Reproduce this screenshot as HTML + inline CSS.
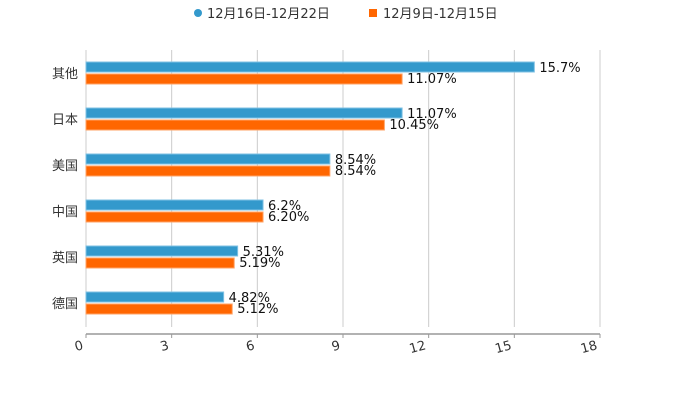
<!DOCTYPE html>
<html><head><meta charset="utf-8"><style>
body{margin:0;background:#fff;font-family:"Liberation Sans","Noto Sans CJK SC",sans-serif;}
svg text{font-family:"DejaVu Sans","Noto Sans CJK SC",sans-serif;}
</style></head><body>
<svg width="700" height="400" id="chart">
<g>
<g><circle cx="198" cy="13" r="4" fill="#3399cc"/><text x="207" y="18" font-size="13" fill="#333">12月16日-12月22日</text></g>
<g><rect x="369" y="9" width="8" height="8" fill="#ff6600"/><text x="383" y="18" font-size="13" fill="#333">12月9日-12月15日</text></g>
</g>
</svg>
<script>
const categories=["其他","日本","美国","中国","英国","德国"];
const seriesA=[15.7,11.07,8.54,6.2,5.31,4.82];
const labelsA=["15.7%","11.07%","8.54%","6.2%","5.31%","4.82%"];
const seriesB=[11.07,10.45,8.54,6.20,5.19,5.12];
const labelsB=["11.07%","10.45%","8.54%","6.20%","5.19%","5.12%"];
const ticks=[0,3,6,9,12,15,18];
const svg=document.getElementById('chart');const NS='http://www.w3.org/2000/svg';
const x0=86,x1=600,xmax=18,top0=50,bot=327;
const xs=v=>x0+(x1-x0)*v/xmax;
const yc=i=>73+i*46;
function mk(t,a,p){const e=document.createElementNS(NS,t);for(const k in a)e.setAttribute(k,a[k]);(p||svg).appendChild(e);return e;}
ticks.forEach(t=>{
const g=mk('line',{x1:xs(t),x2:xs(t),y1:top0,y2:bot,stroke:'#ccc','stroke-width':1});


const tk=mk('line',{x1:xs(t),x2:xs(t),y1:334,y2:338,stroke:'#999'});


const tx=mk('text',{x:xs(t)-2,y:349,'font-size':13,fill:'#333','text-anchor':'end',transform:`rotate(-15 ${xs(t)-2} 349)`});
tx.textContent=t;


});
const ax=mk('line',{x1:x0,x2:x1,y1:334,y2:334,stroke:'#999','stroke-width':1.5});


categories.forEach((c,i)=>{
const y=yc(i);
const l=mk('text',{x:78,y:y+5,'font-size':13,fill:'#333','text-anchor':'end'});l.textContent=c;


const a=mk('rect',{x:x0,y:y-11,width:xs(seriesA[i])-x0,height:10,fill:'#3399cc',stroke:'#7fc1e3','stroke-width':1});


const b=mk('rect',{x:x0,y:y+1,width:xs(seriesB[i])-x0,height:10,fill:'#ff6600',stroke:'#ffa366','stroke-width':1});


const ta=mk('text',{x:xs(seriesA[i])+5,y:y-1,'font-size':13,fill:'#111'});ta.textContent=labelsA[i];


const tb=mk('text',{x:xs(seriesB[i])+5,y:y+10,'font-size':13,fill:'#111'});tb.textContent=labelsB[i];


});
</script>
</body></html>
